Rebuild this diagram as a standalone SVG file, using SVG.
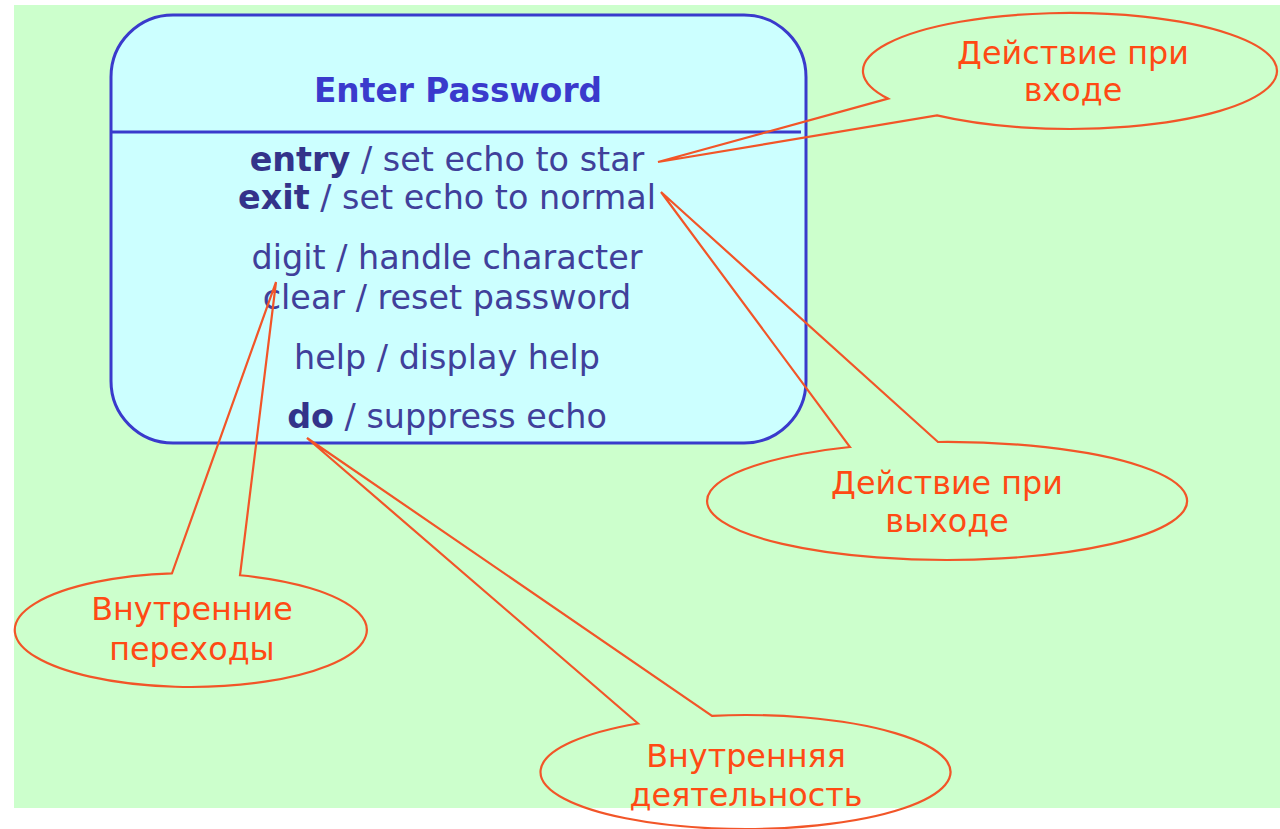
<svg xmlns="http://www.w3.org/2000/svg" width="1280" height="829" viewBox="0 0 1280 829">
<style>
.bg{fill:#ccffcc}
.state{fill:#ccffff;stroke:#3a3acc;stroke-width:3}
.div{stroke:#3a3acc;stroke-width:3}
.title{font-family:"DejaVu Sans",Verdana,sans-serif;font-size:32.8px;font-weight:bold;fill:#3a3acc;text-anchor:middle}
.body{font-family:"DejaVu Sans",Verdana,sans-serif;font-size:33.4px;fill:#40409a;text-anchor:middle}
.kw{font-weight:bold;fill:#33338a}
.callout{fill:none;stroke:#f25528;stroke-width:2.2;stroke-linejoin:miter}
.ctext{font-family:"DejaVu Sans",Verdana,sans-serif;font-size:31.8px;fill:#ff4a14;text-anchor:middle}
</style>
<rect class="bg" x="14" y="5" width="1266" height="803"/>
<g id="state-enter-password">
<rect class="state" x="111" y="15" width="695" height="428" rx="62" ry="62"/>
<line class="div" x1="111" y1="132" x2="801" y2="132"/>
<text class="title" x="458" y="102">Enter Password</text>
<text class="body" x="447" y="171"><tspan class="kw">entry</tspan> / set echo to star</text>
<text class="body" x="447" y="209"><tspan class="kw">exit</tspan> / set echo to normal</text>
<text class="body" x="447" y="269">digit / handle character</text>
<text class="body" x="447" y="309">clear / reset password</text>
<text class="body" x="447" y="369">help / display help</text>
<text class="body" x="447" y="428"><tspan class="kw">do</tspan> / suppress echo</text>
</g>
<g id="connectors">
<path id="callout-entry" class="callout" d="M 888 98.6 A 207 58 0 1 1 937 115.4 L 658 162 Z"/>
<path id="callout-exit" class="callout" d="M 938 442 A 240 59 0 1 1 850 447 L 661 192 Z"/>
<path id="callout-internal" class="callout" d="M 240 575.25 A 176 57 0 1 1 172 573.3 L 276 282 Z"/>
<path id="callout-do" class="callout" d="M 712 715.8 A 205 57 0 1 1 638 723.5 L 307 438 Z"/>
</g>
<g id="note-entry">
<text class="ctext" x="1073" y="64">Действие при</text>
<text class="ctext" x="1073" y="101">входе</text>
</g>
<g id="note-exit">
<text class="ctext" x="947" y="494">Действие при</text>
<text class="ctext" x="947" y="532">выходе</text>
</g>
<g id="note-internal">
<text class="ctext" x="192" y="620">Внутренние</text>
<text class="ctext" x="192" y="660">переходы</text>
</g>
<g id="note-do">
<text class="ctext" x="746" y="767">Внутренняя</text>
<text class="ctext" x="746" y="806">деятельность</text>
</g>
</svg>
